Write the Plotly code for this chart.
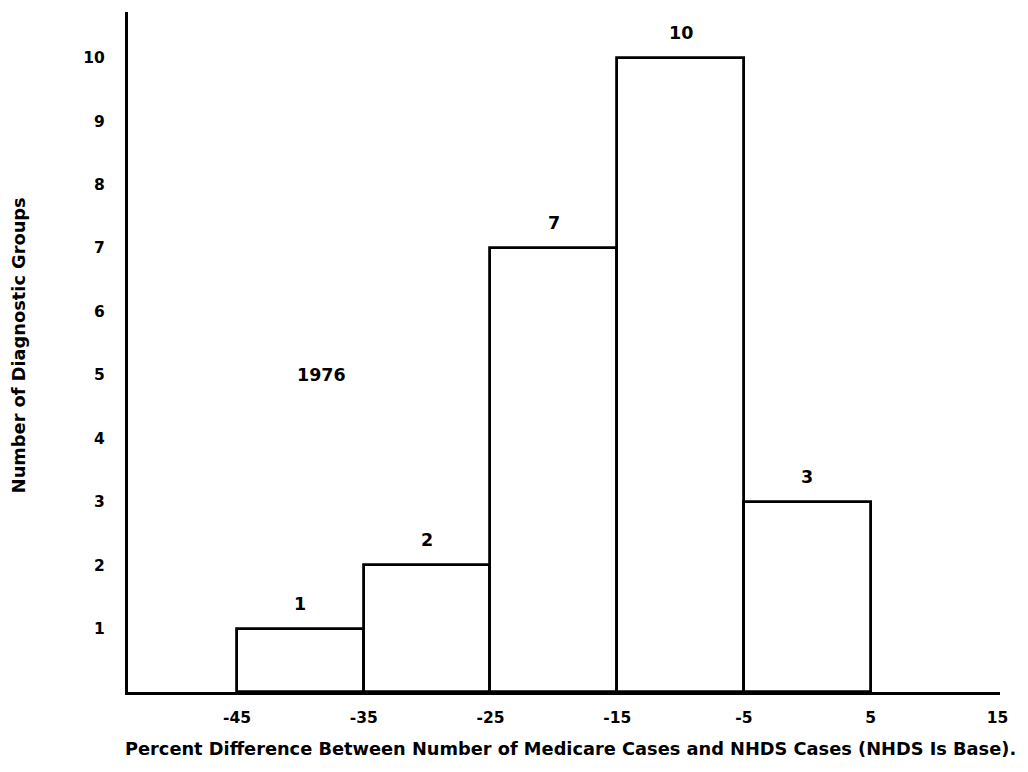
import plotly.graph_objects as go

bin_left = [-45, -35, -25, -15, -5]
bin_width = 10
counts = [1, 2, 7, 10, 3]
x_ticks = [-45, -35, -25, -15, -5, 5, 15]
y_ticks = [1, 2, 3, 4, 5, 6, 7, 8, 9, 10]
x_title = "Percent Difference Between Number of Medicare Cases and NHDS Cases (NHDS Is Base)."
y_title = "Number of Diagnostic Groups"
year_label = "1976"

centers = [b + bin_width / 2 for b in bin_left]
font_family = "DejaVu Sans, Liberation Sans, Arial, sans-serif"

fig = go.Figure()
fig.add_trace(go.Bar(
    x=centers, y=counts, width=[bin_width] * len(counts),
    marker=dict(color="white", line=dict(color="black", width=2.8)),
    hoverinfo="skip", showlegend=False,
))

for c, v in zip(centers, counts):
    fig.add_annotation(x=c, y=v, text=str(v), showarrow=False, yshift=25,
                       font=dict(family=font_family, size=17.5, color="black", weight="bold"))

fig.add_annotation(x=-38.3, y=5.0, text=year_label, showarrow=False,
                   font=dict(family=font_family, size=17.5, color="black", weight="bold"))

fig.add_annotation(xref="paper", yref="paper", x=0.5, y=0, yshift=-56, xshift=6,
                   xanchor="center", yanchor="middle",
                   text=x_title, showarrow=False,
                   font=dict(family=font_family, size=17.8, color="black", weight="bold"))
fig.add_annotation(xref="paper", yref="paper", x=0, y=0.51, xshift=-110,
                   xanchor="center", yanchor="middle",
                   text=y_title, textangle=-90, showarrow=False,
                   font=dict(family=font_family, size=17.8, color="black", weight="bold"))

fig.update_layout(
    width=1020, height=764,
    margin=dict(l=120, r=28, t=4, b=80),
    paper_bgcolor="white", plot_bgcolor="white",
    bargap=0,
    xaxis=dict(range=[-53.6, 15.2], tickvals=x_ticks, ticktext=[str(t) for t in x_ticks],
               showgrid=False, zeroline=False, showline=True, linecolor="black", linewidth=3,
               ticks="", ticklabelstandoff=9,
               tickfont=dict(family=font_family, size=15.5, color="black", weight="bold")),
    yaxis=dict(range=[0, 10.72], tickvals=y_ticks, ticktext=[str(t) for t in y_ticks],
               showgrid=False, zeroline=False, showline=True, linecolor="black", linewidth=3,
               ticks="", ticklabelstandoff=17,
               tickfont=dict(family=font_family, size=15.5, color="black", weight="bold")),
)

fig.write_html("out.html")
